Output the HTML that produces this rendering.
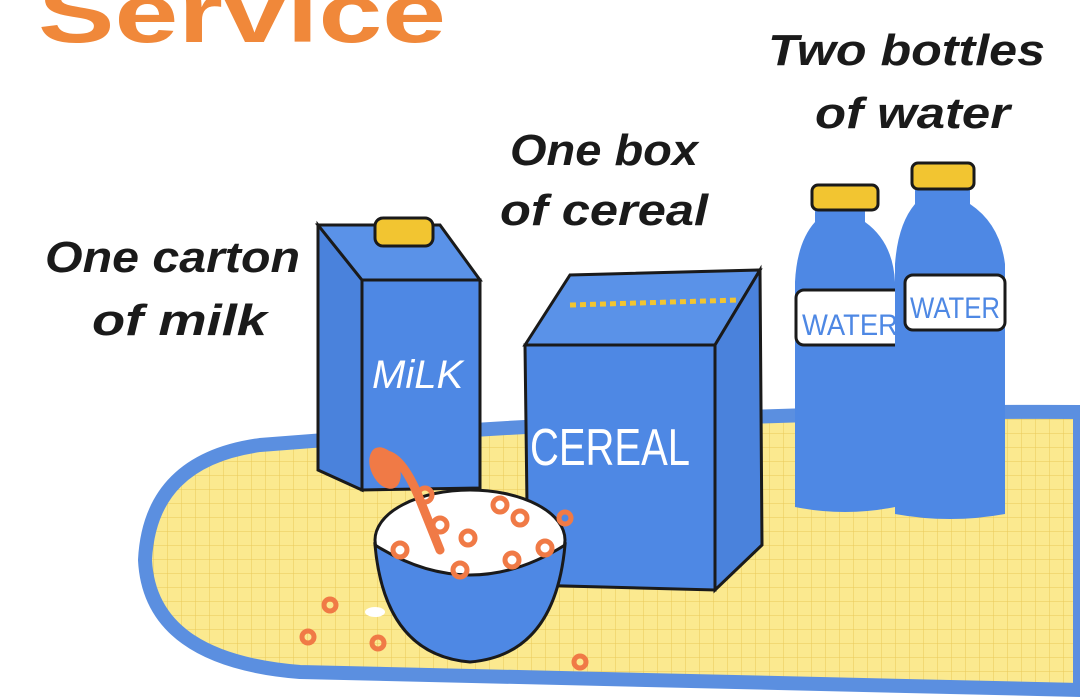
<!DOCTYPE html>
<html><head><meta charset="utf-8"><style>
html,body{margin:0;padding:0;background:#fff;}
svg{display:block;}
.lbl{font-family:"Liberation Sans",sans-serif;font-weight:bold;font-style:italic;fill:#1a1a1a;}
</style></head><body>
<svg width="1080" height="700" viewBox="0 0 1080 700" xmlns="http://www.w3.org/2000/svg">
<defs>
<pattern id="grid" width="14" height="14" patternUnits="userSpaceOnUse">
<rect width="14" height="14" fill="#FBE98F"/>
<path d="M14 0V14M0 14H14" stroke="#E9C95A" stroke-width="1"/>
</pattern>
</defs>
<text x="38" y="42" font-family="Liberation Sans,sans-serif" font-weight="bold" font-size="84" fill="#F0883A" textLength="408" lengthAdjust="spacingAndGlyphs">Service</text>

<text class="lbl" x="45" y="272" font-size="44" textLength="255" lengthAdjust="spacingAndGlyphs">One carton</text>
<text class="lbl" x="92" y="335" font-size="44" textLength="175" lengthAdjust="spacingAndGlyphs">of milk</text>
<text class="lbl" x="510" y="165" font-size="44" textLength="188" lengthAdjust="spacingAndGlyphs">One box</text>
<text class="lbl" x="500" y="225" font-size="44" textLength="208" lengthAdjust="spacingAndGlyphs">of cereal</text>
<text class="lbl" x="768" y="65" font-size="44" textLength="277" lengthAdjust="spacingAndGlyphs">Two bottles</text>
<text class="lbl" x="815" y="128" font-size="44" textLength="195" lengthAdjust="spacingAndGlyphs">of water</text>

<!-- table -->
<path d="M260 445 Q700 410 1080 412 L1080 690 L300 672 Q150 660 145 560 Q150 460 260 445Z" fill="url(#grid)" stroke="#5B8FE0" stroke-width="14"/>

<!-- milk carton -->
<polygon points="318,225 362,280 362,490 318,470" fill="#4A82DC" stroke="#1a1a1a" stroke-width="3"/>
<polygon points="318,225 440,225 480,280 362,280" fill="#5A92E8" stroke="#1a1a1a" stroke-width="3"/>
<polygon points="362,280 480,280 480,488 362,490" fill="#4E88E4" stroke="#1a1a1a" stroke-width="3"/>
<rect x="375" y="218" width="58" height="28" rx="8" fill="#F2C531" stroke="#1a1a1a" stroke-width="3"/>
<text x="372" y="388" font-family="Liberation Sans,sans-serif" font-size="40" fill="#fff" font-style="italic">MiLK</text>

<!-- cereal box -->
<polygon points="525,345 570,275 760,270 715,345" fill="#5A92E8" stroke="#1a1a1a" stroke-width="3"/>
<polyline points="570,305 740,300" fill="none" stroke="#F2C531" stroke-width="5" stroke-dasharray="6 4"/>
<polygon points="715,345 760,270 762,545 715,590" fill="#4A82DC" stroke="#1a1a1a" stroke-width="3"/>
<polygon points="525,345 715,345 715,590 528,585" fill="#4E88E4" stroke="#1a1a1a" stroke-width="3"/>
<text x="530" y="465" font-family="Liberation Sans,sans-serif" font-size="52" fill="#fff" textLength="160" lengthAdjust="spacingAndGlyphs">CEREAL</text>

<!-- bottles -->
<g>
<path d="M815 210 h50 v12 q28 20 30 60 v225 q-50 10 -100 0 v-225 q2 -40 20 -60z" fill="#4E88E4"/>
<rect x="812" y="185" width="66" height="25" rx="6" fill="#F2C531" stroke="#1a1a1a" stroke-width="3"/>
<rect x="796" y="290" width="110" height="55" rx="8" fill="#fff" stroke="#1a1a1a" stroke-width="3"/>
<text x="802" y="335" font-family="Liberation Sans,sans-serif" font-size="30" fill="#4E88E4" textLength="96" lengthAdjust="spacingAndGlyphs">WATER</text>
</g>
<g>
<path d="M915 190 h55 v14 q30 20 35 60 v250 q-55 10 -110 0 v-250 q3 -40 20 -60z" fill="#4E88E4"/>
<rect x="912" y="163" width="62" height="26" rx="6" fill="#F2C531" stroke="#1a1a1a" stroke-width="3"/>
<rect x="905" y="275" width="100" height="55" rx="8" fill="#fff" stroke="#1a1a1a" stroke-width="3"/>
<text x="910" y="318" font-family="Liberation Sans,sans-serif" font-size="30" fill="#4E88E4" textLength="90" lengthAdjust="spacingAndGlyphs">WATER</text>
</g>

<!-- bowl -->
<ellipse cx="470" cy="540" rx="95" ry="50" fill="#fff" stroke="#1a1a1a" stroke-width="3"/>
<path d="M375 545 Q385 655 470 662 Q555 655 565 545 Q470 605 375 545Z" fill="#4E88E4" stroke="#1a1a1a" stroke-width="3"/>
<path d="M380 455 Q400 450 420 500 L440 550" fill="none" stroke="#F07A46" stroke-width="9" stroke-linecap="round"/>
<ellipse cx="385" cy="468" rx="14" ry="22" fill="#F07A46" transform="rotate(-25 385 468)"/>
<g fill="none" stroke="#F07A46" stroke-width="5">
<circle cx="425" cy="495" r="7"/><circle cx="468" cy="538" r="7"/><circle cx="500" cy="505" r="7"/><circle cx="520" cy="518" r="7"/><circle cx="545" cy="548" r="7"/><circle cx="512" cy="560" r="7"/><circle cx="460" cy="570" r="7"/><circle cx="400" cy="550" r="7"/><circle cx="440" cy="525" r="7"/><circle cx="565" cy="518" r="6"/><circle cx="330" cy="605" r="6"/><circle cx="308" cy="637" r="6"/><circle cx="378" cy="643" r="6"/><circle cx="580" cy="662" r="6"/>
</g>
<ellipse cx="375" cy="612" rx="10" ry="5" fill="#fff"/>
</svg>
</body></html>
